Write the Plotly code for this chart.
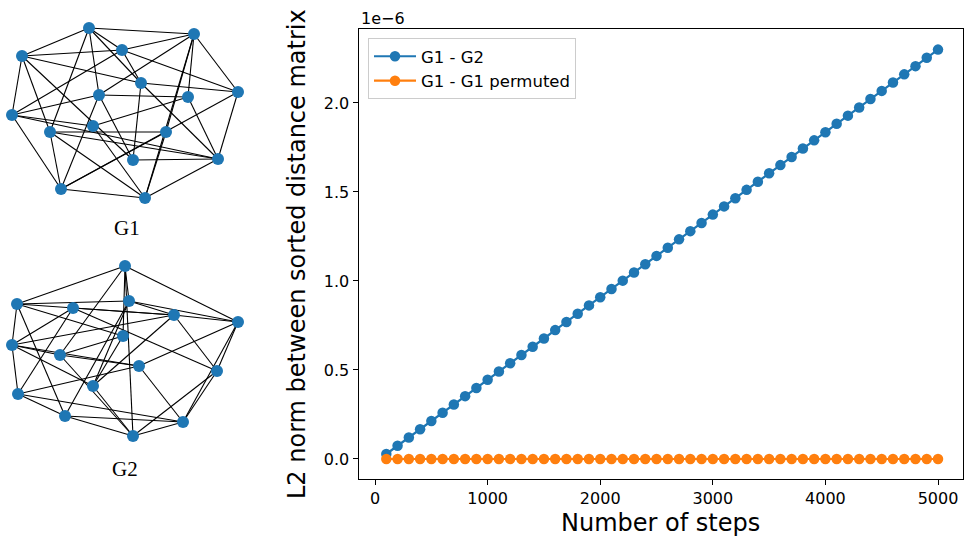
import plotly.graph_objects as go

# ---------------- data ----------------
steps = [100 * i for i in range(1, 51)]
# L2 norm values in units of 1e-6
g1_g2_e6 = [0.028, 0.074, 0.121, 0.167, 0.213, 0.260, 0.306, 0.353, 0.399, 0.445,
            0.492, 0.538, 0.584, 0.631, 0.677, 0.724, 0.770, 0.816, 0.863, 0.909,
            0.955, 1.002, 1.048, 1.094, 1.141, 1.187, 1.234, 1.280, 1.326, 1.373,
            1.419, 1.465, 1.512, 1.558, 1.605, 1.651, 1.697, 1.744, 1.790, 1.836,
            1.883, 1.929, 1.975, 2.022, 2.068, 2.115, 2.161, 2.207, 2.254, 2.300]
g1_g1perm_e6 = [0.0] * 50

x_ticks = [0, 1000, 2000, 3000, 4000, 5000]
y_ticks = [0.0, 0.5, 1.0, 1.5, 2.0]
y_ticklabels = ["0.0", "0.5", "1.0", "1.5", "2.0"]

# graph layouts (node positions) and edges
g1_x = [89, 194, 22, 122, 141, 99, 188, 238, 12, 93, 50, 166, 133, 218, 61, 145]
g1_y = [28, 34, 56, 50, 83, 95, 97, 92, 115, 126, 132, 132, 160, 159, 189, 198]
g1_edges = [(0, 1), (0, 2), (0, 3), (0, 4), (0, 5), (0, 10),
            (1, 3), (1, 6), (1, 7), (1, 11), (1, 15), (1, 5),
            (2, 3), (2, 4), (2, 8), (2, 10), (2, 12),
            (3, 4), (3, 7), (3, 8),
            (4, 7), (4, 12), (4, 13),
            (5, 6), (5, 8), (5, 14), (5, 12),
            (6, 9), (6, 13),
            (7, 13), (7, 14),
            (8, 9), (8, 14), (8, 13),
            (9, 15),
            (10, 11), (10, 13), (10, 14), (10, 15),
            (11, 14), (11, 15),
            (12, 13), (13, 15), (14, 15)]

g2_x = [125, 17, 73, 129, 174, 238, 123, 12, 60, 139, 217, 18, 93, 65, 183, 133]
g2_y = [266, 304, 308, 301, 315, 322, 336, 345, 355, 366, 371, 394, 386, 416, 422, 436]
g2_edges = [(0, 1), (0, 5), (0, 3), (0, 6), (0, 8), (0, 15),
            (1, 3), (1, 4), (1, 6), (1, 7), (1, 13),
            (2, 4), (2, 10), (2, 7), (2, 11),
            (3, 4), (3, 5), (3, 12), (3, 13),
            (4, 5), (4, 10), (4, 7), (4, 12),
            (5, 10), (5, 14), (5, 9),
            (6, 8), (6, 12),
            (7, 8), (7, 11), (7, 12), (7, 9),
            (8, 9), (8, 15),
            (9, 11), (9, 14),
            (10, 14), (10, 15),
            (11, 13), (11, 14),
            (12, 15),
            (13, 14), (13, 15),
            (14, 15)]

graph_labels = ["G1", "G2"]

BLUE = "#1f77b4"
ORANGE = "#ff7f0e"
FONT = "DejaVu Sans"

W, H = 964, 538
fig = go.Figure()

# ---------------- main chart ----------------
fig.add_trace(go.Scatter(x=steps, y=g1_g2_e6, mode="lines+markers", name="G1 - G2",
                         line=dict(color=BLUE, width=2.2), marker=dict(size=10.5, color=BLUE),
                         xaxis="x", yaxis="y"))
fig.add_trace(go.Scatter(x=steps, y=g1_g1perm_e6, mode="lines+markers", name="G1 - G1 permuted",
                         line=dict(color=ORANGE, width=2.2), marker=dict(size=10.5, color=ORANGE),
                         xaxis="x", yaxis="y"))


# ---------------- graph drawings ----------------
def edge_coords(xs, ys, edges):
    ex, ey = [], []
    for a, b in edges:
        ex += [xs[a], xs[b], None]
        ey += [ys[a], ys[b], None]
    return ex, ey


for xs, ys, edges in [(g1_x, g1_y, g1_edges), (g2_x, g2_y, g2_edges)]:
    ex, ey = edge_coords(xs, ys, edges)
    fig.add_trace(go.Scatter(x=ex, y=ey, mode="lines", line=dict(color="black", width=1.1),
                             showlegend=False, hoverinfo="skip", xaxis="x2", yaxis="y2"))
    fig.add_trace(go.Scatter(x=xs, y=ys, mode="markers", marker=dict(size=12, color=BLUE),
                             showlegend=False, xaxis="x2", yaxis="y2"))

L, R, T, B = 358.5, 963, 29, 479
axis_common = dict(showgrid=False, zeroline=False, showline=True, mirror=True,
                   linecolor="black", linewidth=1, ticks="outside", ticklen=5,
                   tickcolor="black", tickwidth=1,
                   tickfont=dict(family=FONT, size=16, color="black"))

fig.update_layout(
    width=W, height=H,
    margin=dict(l=0, r=0, t=0, b=0, pad=0),
    paper_bgcolor="white", plot_bgcolor="white",
    font=dict(family=FONT, color="black"),
    xaxis=dict(domain=[L / W, R / W], range=[-147, 5222], tickvals=x_ticks,
               anchor="y", **axis_common),
    yaxis=dict(domain=[(H - B) / H, (H - T) / H], range=[-0.1124, 2.4157],
               tickvals=y_ticks, ticktext=y_ticklabels, anchor="x", **axis_common),
    xaxis2=dict(domain=[0, 270 / W], range=[0, 270], visible=False, anchor="y2"),
    yaxis2=dict(domain=[0, 1], range=[H, 0], visible=False, anchor="x2"),
    legend=dict(x=368 / W, y=1 - 38 / H, xanchor="left", yanchor="top",
                bgcolor="rgba(255,255,255,0.8)", bordercolor="#cccccc", borderwidth=1,
                font=dict(family=FONT, size=16.5, color="black"), itemwidth=42,
                tracegroupgap=0),
    showlegend=True,
)

annotations = [
    dict(text="1e\u22126", x=L / W, y=1 - 19 / H, xref="paper", yref="paper",
         xanchor="left", yanchor="middle", showarrow=False,
         font=dict(family=FONT, size=16, color="black")),
    dict(text="Number of steps", x=(L + R) / 2 / W, y=1 - 523 / H, xref="paper", yref="paper",
         xanchor="center", yanchor="middle", showarrow=False,
         font=dict(family=FONT, size=24, color="black")),
    dict(text="L2 norm between sorted distance matrix", x=297 / W, y=1 - 254 / H,
         xref="paper", yref="paper", xanchor="center", yanchor="middle", textangle=-90,
         showarrow=False, font=dict(family=FONT, size=24, color="black")),
    dict(text=graph_labels[0], x=127, y=228, xref="x2", yref="y2", showarrow=False,
         xanchor="center", yanchor="middle",
         font=dict(family="Liberation Serif", size=21, color="black")),
    dict(text=graph_labels[1], x=125, y=469, xref="x2", yref="y2", showarrow=False,
         xanchor="center", yanchor="middle",
         font=dict(family="Liberation Serif", size=21, color="black")),
]
fig.update_layout(annotations=annotations)

fig.write_html("out.html", config={"displayModeBar": False},
               post_script="document.body.style.margin='0px';document.body.style.padding='0px';")
